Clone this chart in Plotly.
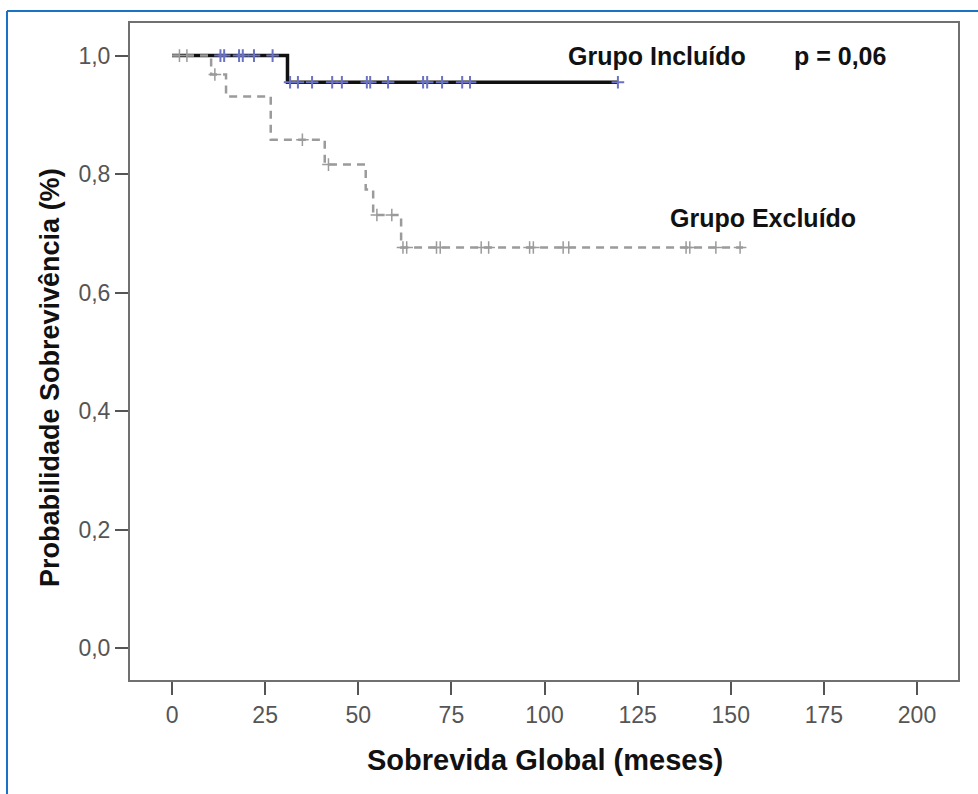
import plotly.graph_objects as go

# ---- data ----
incl_times = [0, 31]
incl_surv = [1.0, 0.955]
incl_end = 119.7
incl_censor = [13, 14, 18, 19, 22, 27, 31.7, 33.8, 37.6, 43, 45.6, 52.3, 53.2, 58,
               67.4, 68.5, 72.5, 77.9, 80, 119.7]

excl_times = [0, 10.5, 14.5, 26.5, 41, 52, 54, 61.5]
excl_surv = [1.0, 0.968, 0.931, 0.858, 0.816, 0.774, 0.731, 0.676]
excl_end = 153.3
excl_censor = [2, 4, 11.5, 35, 42, 55, 59, 62, 63, 71, 72, 83, 85, 96, 97,
               105, 106.5, 138, 139, 146, 152.5]

x_ticks = [0, 25, 50, 75, 100, 125, 150, 175, 200]
y_ticks = [0.0, 0.2, 0.4, 0.6, 0.8, 1.0]
y_tick_labels = ["0,0", "0,2", "0,4", "0,6", "0,8", "1,0"]


def surv_at(t, times, surv):
    val = surv[0]
    for ti, si in zip(times, surv):
        if ti <= t:
            val = si
    return val


fig = go.Figure()

# included group (black solid)
fig.add_trace(go.Scatter(
    x=incl_times + [incl_end], y=incl_surv + [incl_surv[-1]],
    mode="lines", line=dict(color="#111111", width=3.5, shape="hv"),
    showlegend=False, hoverinfo="skip"))
fig.add_trace(go.Scatter(
    x=incl_censor, y=[surv_at(t, incl_times, incl_surv) for t in incl_censor],
    mode="markers",
    marker=dict(symbol="cross-thin", size=9, line=dict(color="#6a72c4", width=2)),
    showlegend=False))

# excluded group (gray dashed)
fig.add_trace(go.Scatter(
    x=excl_times + [excl_end], y=excl_surv + [excl_surv[-1]],
    mode="lines", line=dict(color="#9b9b9b", width=2.5, shape="hv", dash="8px,6px"),
    showlegend=False, hoverinfo="skip"))
fig.add_trace(go.Scatter(
    x=excl_censor, y=[surv_at(t, excl_times, excl_surv) for t in excl_censor],
    mode="markers",
    marker=dict(symbol="cross-thin", size=9, line=dict(color="#9b9b9b", width=1.5)),
    showlegend=False))

font_ticks = dict(family="Liberation Sans, Arial, sans-serif", size=23, color="#555555")

fig.update_layout(
    width=978, height=794,
    margin=dict(l=130, r=20, t=23, b=114),
    paper_bgcolor="white", plot_bgcolor="white",
    xaxis=dict(range=[-11.28, 211.0], tickvals=x_ticks, ticks="outside", ticklen=13,
               tickwidth=2, tickcolor="#555555", showgrid=False, zeroline=False,
               showline=True, linecolor="#707070", linewidth=2, mirror=True,
               tickfont=font_ticks),
    yaxis=dict(range=[-0.054, 1.055], tickvals=y_ticks, ticktext=y_tick_labels,
               ticks="outside", ticklen=13, tickwidth=2, tickcolor="#555555",
               showgrid=False, zeroline=False, showline=True, linecolor="#707070",
               linewidth=2, mirror=True, tickfont=font_ticks),
    font=dict(family="Liberation Sans, Arial, sans-serif"),
)

bold = dict(family="Liberation Sans, Arial, sans-serif", size=25, color="#111111")
for tx, ty, txt in [(130.2, 1.0, "<b>Grupo Incluído</b>"),
                    (179.3, 1.0, "<b>p = 0,06</b>"),
                    (158.7, 0.726, "<b>Grupo Excluído</b>")]:
    fig.add_annotation(x=tx, y=ty, xref="x", yref="y", text=txt, showarrow=False,
                       font=bold, xanchor="center", yanchor="middle")

fig.add_annotation(x=(545 - 130) / 828, y=(680 - 760) / 657, xref="paper", yref="paper",
                   text="<b>Sobrevida Global (meses)</b>", showarrow=False,
                   xanchor="center", yanchor="middle",
                   font=dict(family="Liberation Sans, Arial, sans-serif", size=29,
                             color="#111111"))
fig.add_annotation(x=(50 - 130) / 828, y=(680 - 378) / 657, xref="paper", yref="paper",
                   text="<b>Probabilidade Sobrevivência (%)</b>", textangle=-90,
                   showarrow=False, xanchor="center", yanchor="middle",
                   font=dict(family="Liberation Sans, Arial, sans-serif", size=27,
                             color="#111111"))

# blue outer frame (left and top edges)
fx0 = (7 - 130) / 828
fy0 = (680 - 11) / 657
fig.add_shape(type="line", xref="paper", yref="paper", x0=fx0, x1=fx0,
              y0=fy0, y1=(680 - 800) / 657, line=dict(color="#1a72c6", width=2))
fig.add_shape(type="line", xref="paper", yref="paper", x0=fx0, x1=(990 - 130) / 828,
              y0=fy0, y1=fy0, line=dict(color="#1a72c6", width=2))

fig.write_html("out.html", config={"displayModeBar": False},
               post_script="document.body.style.margin='0';"
                           "document.body.style.overflow='hidden';")
